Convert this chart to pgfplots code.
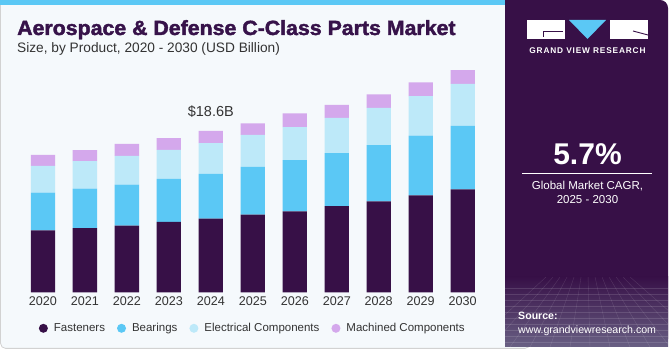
\documentclass[border=0pt]{standalone}
\usepackage{pgfplots}
\pgfplotsset{compat=1.18}
\usepackage{pgfplotstable}
\usepackage{fontspec}
\setmainfont{Liberation Sans}
\newfontfamily\titlefont{Liberation Sans}[BoldFeatures={FakeBold=2,FakeStretch=1.04}]
\newfontfamily\logofont{Liberation Sans}[LetterSpace=10]
\definecolor{cF}{HTML}{371047}
\definecolor{cB}{HTML}{5BC8F5}
\definecolor{cE}{HTML}{BDE9F9}
\definecolor{cM}{HTML}{D4A8EC}
\definecolor{bg}{HTML}{F5F9FC}
\definecolor{panel}{HTML}{371047}
\definecolor{txt}{HTML}{333333}
\definecolor{cT}{HTML}{37134A}
\pgfplotstableread{
x F B E M
0 7.15 4.34 3.08 1.27
1 7.41 4.53 3.19 1.27
2 7.68 4.73 3.31 1.38
3 8.11 4.96 3.34 1.38
4 8.48 5.17 3.56 1.39
5 8.95 5.50 3.69 1.35
6 9.34 5.91 3.80 1.58
7 9.95 6.11 4.04 1.50
8 10.49 6.49 4.27 1.58
9 11.18 6.87 4.58 1.58
10 11.88 7.30 4.84 1.61
}\datatable
\begin{document}
\begin{tikzpicture}[x=1pt,y=1pt]
\path[use as bounding box] (0,0) rectangle (670,350);
\fill[white] (0,0) rectangle (670,350);
\fill[bg, draw=gray!35, line width=0.8pt, rounded corners=5pt] (0.6,1.6) rectangle (530,352);
\fill[cB] (0,345) rectangle (505,350);
% right panel
\fill[panel, rounded corners=8pt] (505,3) rectangle (668,350);
\fill[panel] (505,3) rectangle (520,350);
\shade[top color=panel, bottom color={rgb,255:red,105;green,96;blue,132}] (505,3) rectangle (668,73);
\begin{scope}[white, opacity=0.13, line width=0.4pt]
\clip (505,3) rectangle (668,73);
\foreach \yy in {8,14,20,26,32,38,44,50,56,62} {\draw (505,\yy) -- (668,\yy);}
\foreach \xx in {470,490,510,530,550,570,590,610,630,650,670,690,710} {\draw (\xx,3) -- ({587+(\xx-587)*0.35},73);}
\end{scope}
% logo
\fill[white] (527,311) rectangle (565,330);
\draw[panel, line width=0.9pt] (543,313) -- (543,318.5) -- (563,318.5);
\fill[cB] (569,330) -- (606,330) -- (587.5,311) -- cycle;
\fill[white] (610,311) rectangle (648,330);
\draw[panel, line width=0.9pt] (633,319) -- (648,315);
\node[anchor=base, inner sep=0, text=white, font=\logofont\bfseries\fontsize{8.3}{9}\selectfont] at (587.5,296.7) {GRAND VIEW RESEARCH};
\node[anchor=base, inner sep=0, text=white, font=\bfseries\fontsize{30}{34}\selectfont] at (587.5,185) {5.7\%};
\draw[white, line width=0.8pt] (522,176.7) -- (652,176.7);
\node[anchor=base, inner sep=0, text=white, font=\fontsize{11.5}{13}\selectfont] at (587.5,160) {Global Market CAGR,};
\node[anchor=base, inner sep=0, text=white, font=\fontsize{11.5}{13}\selectfont] at (587.5,146.7) {2025 - 2030};
\node[anchor=base west, inner sep=0, text=white, font=\bfseries\fontsize{10.6}{12}\selectfont] at (518,30) {Source:};
\node[anchor=base west, inner sep=0, text=white, font=\fontsize{10.6}{12}\selectfont] at (518,16.7) {www.grandviewresearch.com};
% titles
\node[anchor=base west, inner sep=0, text=cT, font=\titlefont\bfseries\fontsize{20.5}{24}\selectfont] at (17,315) {Aerospace \& Defense C-Class Parts Market};
\node[anchor=base west, inner sep=0, text=txt, font=\fontsize{13.7}{16}\selectfont] at (17,297) {Size, by Product, 2020 - 2030 (USD Billion)};
\begin{axis}[
  at={(9.32pt,57.7pt)}, anchor=south west,
  x=41.98pt, y=8.673pt,
  xmin=-0.8, xmax=10.8, ymin=0, ymax=27,
  ybar stacked, bar width=24.3pt,
  axis line style={draw=none}, major tick length=0pt,
  ytick=\empty, xtick={0,1,2,3,4,5,6,7,8,9,10},
  xticklabels={2020,2021,2022,2023,2024,2025,2026,2027,2028,2029,2030},
  xticklabel style={font=\fontsize{12.6}{14}\selectfont, text=txt, yshift=-1pt},
  clip=false,
  legend columns=4,
  legend style={at={(0.5,0)}, anchor=center, yshift=-36pt, draw=none, fill=none,
    font=\fontsize{11.5}{13}\selectfont, text=txt,
    /tikz/every even column/.append style={column sep=10pt}},
]
\addplot[fill=cF, draw=none, legend image code/.code={\fill[cF] (0pt,0pt) circle (4.5pt); \path (8.5pt,0pt);}] table[x=x,y=F] {\datatable};
\addplot[fill=cB, draw=none, legend image code/.code={\fill[cB] (0pt,0pt) circle (4.5pt); \path (8.5pt,0pt);}] table[x=x,y=B] {\datatable};
\addplot[fill=cE, draw=none, legend image code/.code={\fill[cE] (0pt,0pt) circle (4.5pt); \path (8.5pt,0pt);}] table[x=x,y=E] {\datatable};
\addplot[fill=cM, draw=none, legend image code/.code={\fill[cM] (0pt,0pt) circle (4.5pt); \path (8.5pt,0pt);}] table[x=x,y=M] {\datatable};
\legend{Fasteners,Bearings,Electrical Components,Machined Components}
\node[anchor=base, inner sep=0, text=txt, font=\fontsize{14.5}{16}\selectfont] at (axis cs:4,18.6) [yshift=14pt] {\$18.6B};
\end{axis}
\end{tikzpicture}
\end{document}
